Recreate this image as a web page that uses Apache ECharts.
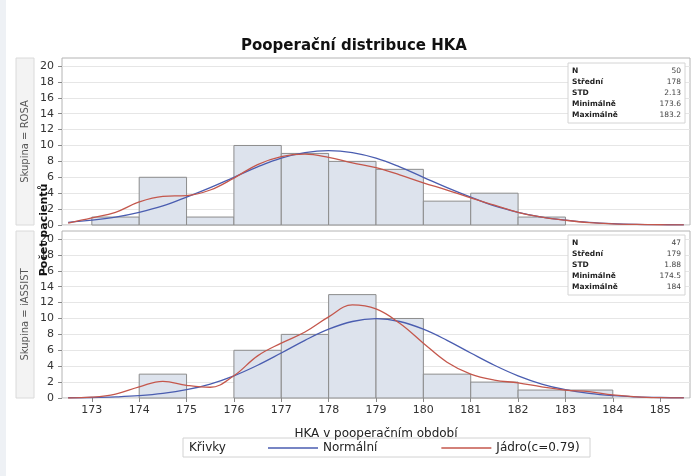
<!DOCTYPE html>
<html>
<head>
<meta charset="utf-8">
<script src="https://cdn.jsdelivr.net/npm/echarts@6/dist/echarts.min.js"></script>
<style>
  html, body { margin: 0; padding: 0; background: #fff; }
  #chart { width: 696px; height: 476px; }
</style>
</head>
<body>
<div id="chart"></div>
<script>
// histogram bins (start of each 1-unit bin) and counts
const binStarts = [173, 174, 175, 176, 177, 178, 179, 180, 181, 182, 183];
const rosaCounts = [1, 6, 1, 10, 9, 8, 7, 3, 4, 1, 0];
const iassistCounts = [0, 3, 0, 6, 8, 13, 10, 3, 2, 1, 1];

const curveX = [172.5, 173, 173.5, 174, 174.5, 175, 175.5, 176, 176.5, 177, 177.5, 178, 178.5,
    179, 179.5, 180, 180.5, 181, 181.5, 182, 182.5, 183, 183.5, 184, 184.5, 185, 185.5];
const rosaNormal = [0.33, 0.6, 1.0, 1.6, 2.4, 3.5, 4.7, 6.0, 7.3, 8.4, 9.1, 9.35, 9.1,
    8.4, 7.3, 6.0, 4.7, 3.5, 2.4, 1.6, 1.0, 0.6, 0.33, 0.17, 0.08, 0.04, 0.02];
const rosaKernel = [0.25, 0.9, 1.6, 2.9, 3.6, 3.7, 4.4, 5.9, 7.6, 8.6, 8.9, 8.5, 7.8,
    7.2, 6.3, 5.3, 4.4, 3.4, 2.5, 1.6, 1.0, 0.6, 0.3, 0.15, 0.07, 0.03, 0.01];
const iassistNormal = [0.03, 0.06, 0.14, 0.29, 0.57, 1.04, 1.76, 2.79, 4.12, 5.66, 7.25, 8.65, 9.62,
    9.97, 9.62, 8.65, 7.25, 5.66, 4.12, 2.79, 1.76, 1.04, 0.57, 0.29, 0.14, 0.06, 0.03];
const iassistKernel = [0.0, 0.1, 0.5, 1.4, 2.1, 1.6, 1.35, 2.8, 5.3, 6.9, 8.3, 10.2, 11.7,
    11.2, 9.4, 6.9, 4.5, 3.0, 2.25, 1.9, 1.4, 1.0, 0.8, 0.4, 0.15, 0.04, 0.01];

const xTicks = [173, 174, 175, 176, 177, 178, 179, 180, 181, 182, 183, 184, 185];
const yTicks = [0, 2, 4, 6, 8, 10, 12, 14, 16, 18, 20];

const statLabels = ['N', 'Střední', 'STD', 'Minimálně', 'Maximálně'];
const rosaStats = ['50', '178', '2.13', '173.6', '183.2'];
const iassistStats = ['47', '179', '1.88', '174.5', '184'];

const FONT = 'DejaVu Sans';
const BLUE = '#4a5db0';
const RED = '#c4574c';

const chart = echarts.init(document.getElementById('chart'));

function pairs(xs, ys) {
    return xs.map((x, i) => [x, ys[i]]);
}

function histData(counts) {
    return binStarts.map((s, i) => [s, counts[i]]).filter(d => d[1] > 0);
}

function renderBin(params, api) {
    const p0 = api.coord([api.value(0), 0]);
    const p1 = api.coord([api.value(0) + 1, api.value(1)]);
    return {
        type: 'rect',
        shape: { x: p0[0], y: p1[1], width: p1[0] - p0[0], height: p0[1] - p1[1] },
        style: { fill: '#dde3ed', stroke: '#8c8c8c', lineWidth: 1 }
    };
}

// small statistics table in the top right corner of a panel
function statsBox(top, values) {
    const children = [{
        type: 'rect', z: 20,
        shape: { x: 0, y: 0, width: 117, height: 60 },
        style: { fill: '#fff', stroke: '#d4d4d4', lineWidth: 1 }
    }];
    statLabels.forEach((lab, i) => {
        children.push({
            type: 'text', x: 4, y: 8 + i * 11.1, z: 21,
            style: { text: lab, fontFamily: FONT, fontSize: 7.5, fontWeight: 'bold', fill: '#222', verticalAlign: 'middle' }
        });
        children.push({
            type: 'text', x: 113, y: 8 + i * 11.1, z: 21,
            style: { text: values[i], fontFamily: FONT, fontSize: 7.5, fill: '#444', align: 'right', verticalAlign: 'middle' }
        });
    });
    return { type: 'group', x: 568, y: top, z: 20, children: children };
}

function stripLabel(top, text) {
    return {
        type: 'group',
        children: [
            { type: 'rect', shape: { x: 16, y: top, width: 18, height: 167 },
              style: { fill: '#f3f3f3', stroke: '#dadada', lineWidth: 1 } },
            { type: 'text', x: 25, y: top + 83.5, rotation: Math.PI / 2,
              style: { text: text, fontFamily: FONT, fontSize: 10, fill: '#555', align: 'center', verticalAlign: 'middle' } }
        ]
    };
}

const lineStyleCommon = { width: 1.3 };

function xAxisBase(idx) {
    return {
        gridIndex: idx, type: 'value', min: 172.37, max: 185.63,
        axisLine: { show: false },
        axisTick: { show: false },
        axisLabel: { show: false },
        splitLine: { show: false }
    };
}

function yAxisBase(idx) {
    return {
        gridIndex: idx, type: 'value', min: 0, max: 21, interval: 2,
        axisLine: { show: false },
        axisTick: { show: true, length: 4, lineStyle: { color: '#888' }, customValues: yTicks },
        axisLabel: { margin: 8, fontFamily: FONT, fontSize: 11, color: '#333', customValues: yTicks },
        splitLine: { show: true, lineStyle: { color: '#e6e6e6', width: 1 } }
    };
}

const lowerX = xAxisBase(1);
lowerX.axisTick = { show: true, length: 4, lineStyle: { color: '#888' }, customValues: xTicks };
lowerX.axisLabel = { show: true, margin: 7, fontFamily: FONT, fontSize: 11, color: '#333', customValues: xTicks };
lowerX.name = 'HKA v pooperačním období';
lowerX.nameLocation = 'middle';
lowerX.nameGap = 30;
lowerX.nameTextStyle = { fontFamily: FONT, fontSize: 12, color: '#222' };

chart.setOption({
    backgroundColor: '#fff',
    animation: false,
    title: {
        text: 'Pooperační distribuce HKA',
        left: 236, top: 34,
        textStyle: { fontFamily: FONT, fontSize: 15, fontWeight: 'bold', color: '#111' }
    },
    grid: [
        { left: 62, top: 58, width: 628, height: 167, show: true, borderColor: '#b4b4b4', borderWidth: 1 },
        { left: 62, top: 231, width: 628, height: 167, show: true, borderColor: '#b4b4b4', borderWidth: 1 }
    ],
    xAxis: [xAxisBase(0), lowerX],
    yAxis: [yAxisBase(0), yAxisBase(1)],
    legend: {
        left: 263, top: 437,
        itemWidth: 50, itemHeight: 1.5, itemGap: 64, icon: 'rect',
        textStyle: { fontFamily: FONT, fontSize: 12, color: '#222' },
        data: ['Normální', 'Jádro(c=0.79)']
    },
    series: [
        { type: 'custom', xAxisIndex: 0, yAxisIndex: 0, renderItem: renderBin, data: histData(rosaCounts), z: 1 },
        { type: 'custom', xAxisIndex: 1, yAxisIndex: 1, renderItem: renderBin, data: histData(iassistCounts), z: 1 },
        { name: 'Normální', type: 'line', xAxisIndex: 0, yAxisIndex: 0, data: pairs(curveX, rosaNormal),
          smooth: 0.4, symbol: 'none', color: BLUE, lineStyle: lineStyleCommon, z: 3 },
        { name: 'Jádro(c=0.79)', type: 'line', xAxisIndex: 0, yAxisIndex: 0, data: pairs(curveX, rosaKernel),
          smooth: 0.4, symbol: 'none', color: RED, lineStyle: lineStyleCommon, z: 3 },
        { name: 'Normální', type: 'line', xAxisIndex: 1, yAxisIndex: 1, data: pairs(curveX, iassistNormal),
          smooth: 0.4, symbol: 'none', color: BLUE, lineStyle: lineStyleCommon, z: 3 },
        { name: 'Jádro(c=0.79)', type: 'line', xAxisIndex: 1, yAxisIndex: 1, data: pairs(curveX, iassistKernel),
          smooth: 0.4, symbol: 'none', color: RED, lineStyle: lineStyleCommon, z: 3 }
    ],
    graphic: [
        { type: 'rect', shape: { x: 0, y: 0, width: 6, height: 476 }, style: { fill: '#eef1f5' }, z: -1 },
        stripLabel(58, 'Skupina = ROSA'),
        stripLabel(231, 'Skupina = iASSIST'),
        { type: 'text', x: 44, y: 230, rotation: Math.PI / 2, z: 10,
          style: { text: 'Počet pacientů', fontFamily: FONT, fontSize: 11, fontWeight: 'bold', fill: '#111',
                   align: 'center', verticalAlign: 'middle' } },
        statsBox(63, rosaStats),
        statsBox(235, iassistStats),
        { type: 'rect', shape: { x: 183, y: 438, width: 407, height: 19 },
          style: { fill: 'none', stroke: '#d2d2d2', lineWidth: 1 } },
        { type: 'text', x: 189, y: 447.5,
          style: { text: 'Křivky', fontFamily: FONT, fontSize: 12, fill: '#222', verticalAlign: 'middle' } }
    ]
});
</script>
</body>
</html>
